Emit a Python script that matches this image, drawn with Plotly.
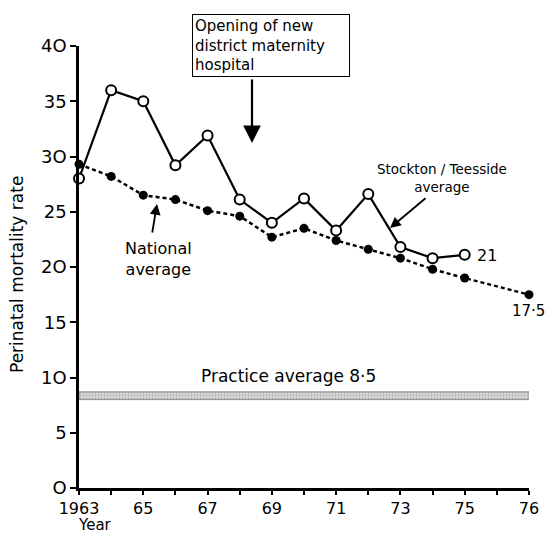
import plotly.graph_objects as go

# ---- data ----
categories = ["1963", "1964", "1965", "1966", "1967", "1968", "1969", "1970",
              "1971", "1972", "1973", "1974", "1975", " ", "1976"]
tick_labels = ["1963", "", "65", "", "67", "", "69", "", "71", "", "73", "", "75", "", "76"]

stockton_years = ["1963", "1964", "1965", "1966", "1967", "1968", "1969", "1970",
                  "1971", "1972", "1973", "1974", "1975"]
stockton_rate = [28.0, 36.0, 35.0, 29.2, 31.9, 26.1, 24.0, 26.2, 23.3, 26.6, 21.8, 20.8, 21.1]

national_years = ["1963", "1964", "1965", "1966", "1967", "1968", "1969", "1970",
                  "1971", "1972", "1973", "1974", "1975", "1976"]
national_rate = [29.3, 28.2, 26.5, 26.1, 25.1, 24.6, 22.7, 23.5, 22.4, 21.6, 20.8, 19.8, 19.0, 17.5]

practice_band = [8.0, 8.7]
practice_label = "Practice average 8·5"
stockton_end_label = "21"
national_end_label = "17·5"

y_ticks = [0, 5, 10, 15, 20, 25, 30, 35, 40]
y_ticktext = ["O", "5", "1O", "15", "2O", "25", "3O", "35", "4O"]

FONT = "DejaVu Sans"

fig = go.Figure()

# practice average band
fig.add_trace(go.Scatter(
    x=[categories[0], categories[-1], categories[-1], categories[0], categories[0]],
    y=[practice_band[0], practice_band[0], practice_band[1], practice_band[1], practice_band[0]],
    mode="lines", fill="toself",
    fillcolor="#d0d0d0",
    fillpattern=dict(shape=".", fgcolor="#7a7a7a", bgcolor="#e2e2e2", size=3, solidity=0.45),
    line=dict(color="#8c8c8c", width=1),
    hoverinfo="skip", showlegend=False,
))

# national average
fig.add_trace(go.Scatter(
    x=national_years, y=national_rate, mode="lines+markers",
    line=dict(color="black", width=2.5, dash="4px,3px"),
    marker=dict(symbol="circle", size=9, color="black"),
    cliponaxis=False, showlegend=False,
))

# Stockton / Teesside
fig.add_trace(go.Scatter(
    x=stockton_years, y=stockton_rate, mode="lines+markers",
    line=dict(color="black", width=2.2),
    marker=dict(symbol="circle", size=10, color="white", line=dict(color="black", width=2)),
    cliponaxis=False, showlegend=False,
))

W, H = 545, 534
PLOT_L, PLOT_R, PLOT_T, PLOT_B = 79, 529, 46, 488  # screen pixels
L, T, R, B = PLOT_L, PLOT_T, W - PLOT_R, H - PLOT_B
PW, PH = PLOT_R - PLOT_L, PLOT_B - PLOT_T


def px(xp):
    return (xp - PLOT_L) / PW


def py(yp):
    return (PLOT_B - yp) / PH


ann = []
# box annotation
ann.append(dict(xref="paper", yref="paper", x=px(192), y=py(14), xanchor="left", yanchor="top",
                text="Opening of new<br>district maternity<br>hospital", align="left",
                width=152, height=57, valign="middle",
                showarrow=False, bordercolor="black", borderwidth=1, borderpad=2,
                bgcolor="white", font=dict(family=FONT, size=15, color="black")))
# box arrow
ann.append(dict(xref="paper", yref="paper", x=px(252), y=py(143), ax=0, ay=-65,
                text="", showarrow=True, arrowhead=2, arrowsize=1.6, arrowwidth=2.2,
                arrowcolor="black"))
# Stockton label
ann.append(dict(xref="paper", yref="paper", x=px(442), y=py(178), xanchor="center", yanchor="middle",
                text="Stockton / Teesside<br>average", showarrow=False, align="center",
                font=dict(family=FONT, size=13.5, color="black")))
ann.append(dict(xref="paper", yref="paper", x=px(390), y=py(228), ax=37, ay=-31,
                text="", showarrow=True, arrowhead=2, arrowsize=1.2, arrowwidth=1.8,
                arrowcolor="black"))
# National label
ann.append(dict(xref="paper", yref="paper", x=px(158), y=py(259), xanchor="center", yanchor="middle",
                text="National<br>average", showarrow=False, align="center",
                font=dict(family=FONT, size=16, color="black")))
ann.append(dict(xref="paper", yref="paper", x=px(157), y=py(204), ax=-5, ay=30,
                text="", showarrow=True, arrowhead=2, arrowsize=1.2, arrowwidth=1.8,
                arrowcolor="black"))
# end labels
ann.append(dict(xref="paper", yref="paper", x=px(475), y=py(255), xanchor="left", yanchor="middle",
                text=stockton_end_label, showarrow=False, font=dict(family=FONT, size=16, color="black")))
ann.append(dict(xref="paper", yref="paper", x=px(528), y=py(311), xanchor="center", yanchor="middle",
                text=national_end_label, showarrow=False, font=dict(family=FONT, size=15, color="black")))
# practice label
ann.append(dict(xref="paper", yref="paper", x=px(288), y=py(376), xanchor="center", yanchor="middle",
                text=practice_label, showarrow=False, font=dict(family=FONT, size=17, color="black")))
# x title
ann.append(dict(xref="paper", yref="paper", x=px(95), y=py(525), xanchor="center", yanchor="middle",
                text="Year", showarrow=False, font=dict(family=FONT, size=15, color="black")))
# y title
ann.append(dict(xref="paper", yref="paper", x=px(17), y=py(275), xanchor="center", yanchor="middle",
                text="Perinatal mortality rate", textangle=-90, showarrow=False,
                font=dict(family=FONT, size=17, color="black")))

fig.update_layout(
    width=W, height=H,
    margin=dict(l=L, r=R, t=T, b=B, autoexpand=False),
    paper_bgcolor="white", plot_bgcolor="white",
    font=dict(family=FONT, color="black"),
    annotations=ann,
    showlegend=False,
)

fig.update_xaxes(
    type="category", categoryorder="array", categoryarray=categories,
    range=[0, len(categories) - 1], automargin=False,
    tickmode="array", tickvals=categories, ticktext=tick_labels,
    showline=True, linecolor="black", linewidth=2.5,
    ticks="outside", ticklen=4, tickwidth=2, tickcolor="black",
    showgrid=False, zeroline=False,
    tickfont=dict(family=FONT, size=16, color="black"),
)
fig.update_yaxes(
    range=[0, 40], automargin=False,
    tickmode="array", tickvals=y_ticks, ticktext=y_ticktext,
    showline=True, linecolor="black", linewidth=2.5,
    ticks="outside", ticklen=6, tickwidth=2, tickcolor="black",
    showgrid=False, zeroline=False,
    tickfont=dict(family=FONT, size=18, color="black"),
)

# remove the default page margin so the 545x534 figure fills the window exactly
fig.write_html("out.html",
               config={"displayModeBar": False},
               post_script="document.body.style.margin='0';document.body.style.overflow='hidden';")
